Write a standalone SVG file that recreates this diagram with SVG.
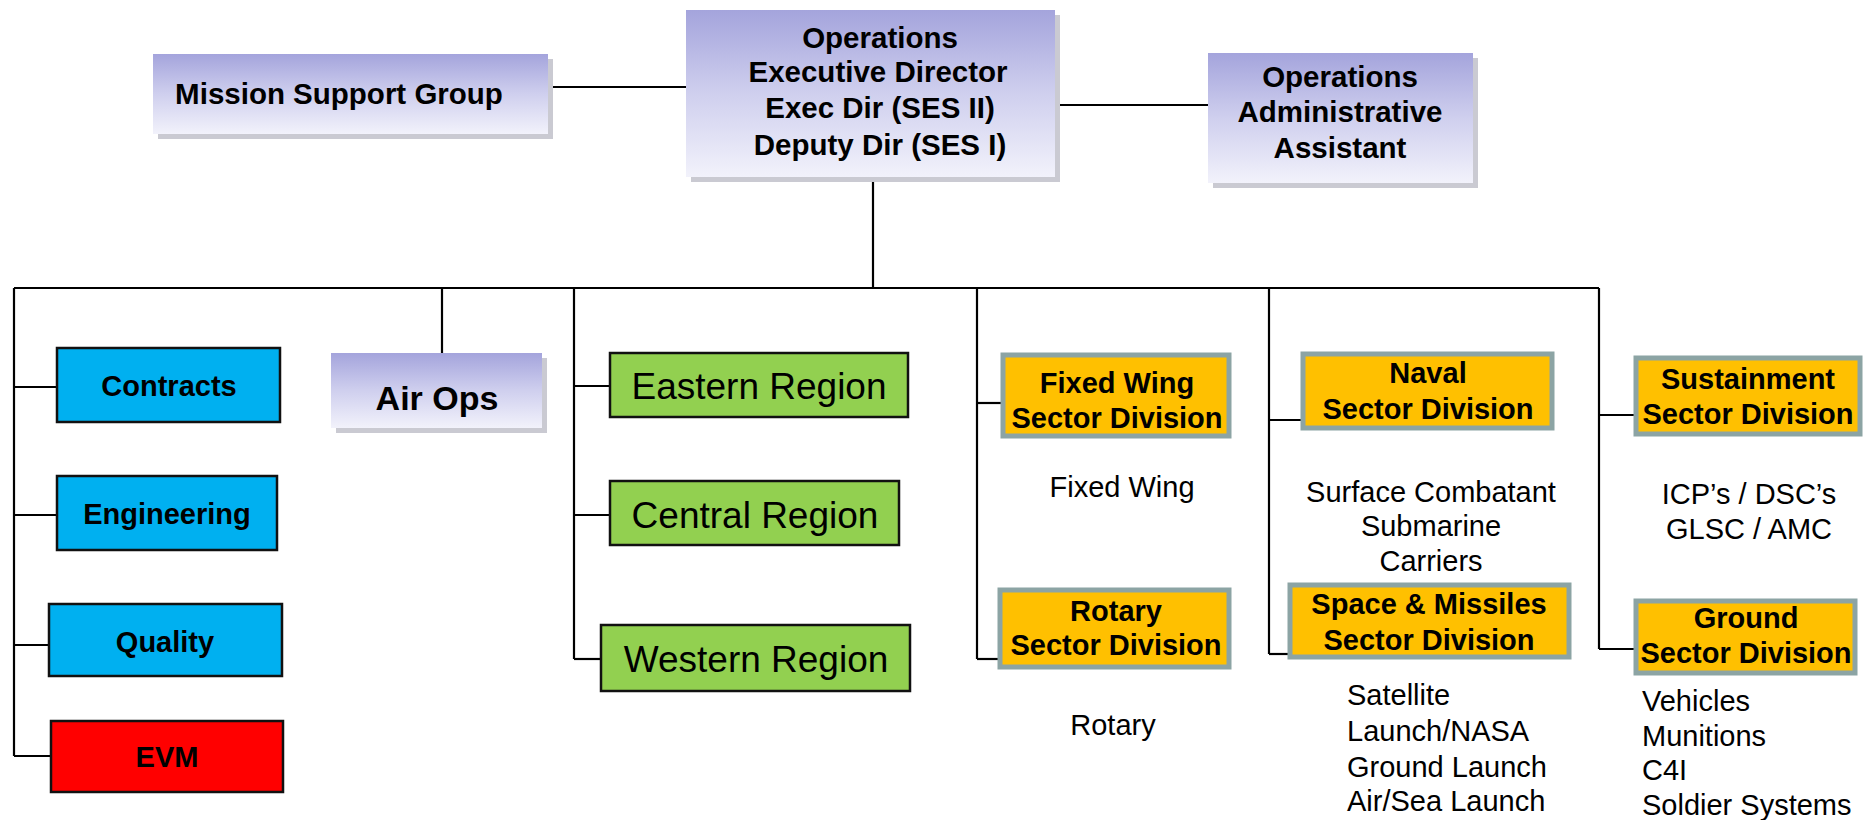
<svg xmlns="http://www.w3.org/2000/svg" width="1875" height="820" viewBox="0 0 1875 820">
<defs>
<linearGradient id="pg" x1="0" y1="0" x2="0" y2="1">
<stop offset="0" stop-color="#a4a4dc"/>
<stop offset="0.5" stop-color="#cfcfee"/>
<stop offset="1" stop-color="#f2f2fb"/>
</linearGradient>
<style>
.conn line, .conn polyline { stroke:#000; stroke-width:2.2; fill:none; }
.pbox { fill:url(#pg); }
.shadow { fill:#cacad2; }
.blue { fill:#00b0f0; stroke:#111; stroke-width:2.5; }
.red { fill:#ff0000; stroke:#111; stroke-width:2.5; }
.green { fill:#92d050; stroke:#111; stroke-width:2.5; }
.orange { fill:#ffc000; stroke:#8ca4a4; stroke-width:5; }
text { font-family:"Liberation Sans", Arial, sans-serif; fill:#000; text-anchor:middle; }
.b28 { font-weight:bold; font-size:29.5px; }
.b27 { font-weight:bold; font-size:29px; }
.b34 { font-weight:bold; font-size:34px; }
.r36 { font-size:37px; }
.r27 { font-size:29px; }
.left { text-anchor:start; }
</style>
</defs>
<rect width="1875" height="820" fill="#fff"/>

<g class="conn">
<line x1="548" y1="87" x2="686" y2="87"/>
<line x1="1055" y1="105" x2="1208" y2="105"/>
<line x1="873" y1="177" x2="873" y2="288"/>
<line x1="14" y1="288" x2="1599" y2="288"/>
<line x1="14" y1="288" x2="14" y2="756"/>
<line x1="14" y1="387" x2="57" y2="387"/>
<line x1="14" y1="515" x2="57" y2="515"/>
<line x1="14" y1="645" x2="49" y2="645"/>
<line x1="14" y1="756" x2="51" y2="756"/>
<line x1="442" y1="288" x2="442" y2="353"/>
<line x1="574" y1="288" x2="574" y2="659"/>
<line x1="574" y1="386" x2="610" y2="386"/>
<line x1="574" y1="515" x2="610" y2="515"/>
<line x1="574" y1="659" x2="601" y2="659"/>
<line x1="977" y1="288" x2="977" y2="659"/>
<line x1="977" y1="403" x2="1003" y2="403"/>
<line x1="977" y1="659" x2="1000" y2="659"/>
<line x1="1269" y1="288" x2="1269" y2="654"/>
<line x1="1269" y1="420" x2="1303" y2="420"/>
<line x1="1269" y1="654" x2="1290" y2="654"/>
<line x1="1599" y1="288" x2="1599" y2="649"/>
<line x1="1599" y1="415" x2="1636" y2="415"/>
<line x1="1599" y1="649" x2="1636" y2="649"/>
</g>

<g id="mission-support">
<rect class="shadow" x="158" y="59" width="395" height="80"/>
<rect class="pbox" x="153" y="54" width="395" height="80"/>
<text class="b28" x="339" y="104">Mission Support Group</text>
</g>

<g id="exec-director">
<rect class="shadow" x="691" y="15" width="369" height="167"/>
<rect class="pbox" x="686" y="10" width="369" height="167"/>
<text class="b28" x="880" y="48">Operations</text>
<text class="b28" x="878" y="82">Executive Director</text>
<text class="b28" x="880" y="118">Exec Dir (SES II)</text>
<text class="b28" x="880" y="155">Deputy Dir (SES I)</text>
</g>

<g id="admin-assistant">
<rect class="shadow" x="1213" y="58" width="265" height="130"/>
<rect class="pbox" x="1208" y="53" width="265" height="130"/>
<text class="b28" x="1340" y="87">Operations</text>
<text class="b28" x="1340" y="122">Administrative</text>
<text class="b28" x="1340" y="158">Assistant</text>
</g>

<g id="contracts">
<rect class="blue" x="57" y="348" width="223" height="74"/>
<text class="b27" x="169" y="396">Contracts</text>
</g>
<g id="engineering">
<rect class="blue" x="57" y="476" width="220" height="74"/>
<text class="b27" x="167" y="524">Engineering</text>
</g>
<g id="quality">
<rect class="blue" x="49" y="604" width="233" height="72"/>
<text class="b27" x="165" y="652">Quality</text>
</g>
<g id="evm">
<rect class="red" x="51" y="721" width="232" height="71"/>
<text class="b27" x="167" y="767">EVM</text>
</g>

<g id="air-ops">
<rect class="shadow" x="336" y="358" width="211" height="75"/>
<rect class="pbox" x="331" y="353" width="211" height="75"/>
<text class="b34" x="437" y="410">Air Ops</text>
</g>

<g id="eastern">
<rect class="green" x="610" y="353" width="298" height="64"/>
<text class="r36" x="759" y="399">Eastern Region</text>
</g>
<g id="central">
<rect class="green" x="610" y="481" width="289" height="64"/>
<text class="r36" x="755" y="528">Central Region</text>
</g>
<g id="western">
<rect class="green" x="601" y="625" width="309" height="66"/>
<text class="r36" x="756" y="672">Western Region</text>
</g>

<g id="fixed-wing">
<rect class="orange" x="1003" y="355" width="226" height="81"/>
<text class="b27" x="1117" y="393">Fixed Wing</text>
<text class="b27" x="1117" y="428">Sector Division</text>
</g>
<g id="rotary">
<rect class="orange" x="1000" y="590" width="229" height="77"/>
<text class="b27" x="1116" y="621">Rotary</text>
<text class="b27" x="1116" y="655">Sector Division</text>
</g>
<g id="naval">
<rect class="orange" x="1303" y="354" width="249" height="74"/>
<text class="b27" x="1428" y="383">Naval</text>
<text class="b27" x="1428" y="419">Sector Division</text>
</g>
<g id="space">
<rect class="orange" x="1290" y="585" width="279" height="72"/>
<text class="b27" x="1429" y="614">Space &amp; Missiles</text>
<text class="b27" x="1429" y="650">Sector Division</text>
</g>
<g id="sustainment">
<rect class="orange" x="1636" y="358" width="224" height="76"/>
<text class="b27" x="1748" y="389">Sustainment</text>
<text class="b27" x="1748" y="424">Sector Division</text>
</g>
<g id="ground">
<rect class="orange" x="1636" y="601" width="219" height="72"/>
<text class="b27" x="1746" y="628">Ground</text>
<text class="b27" x="1746" y="663">Sector Division</text>
</g>

<g id="labels">
<text class="r27" x="1122" y="497">Fixed Wing</text>
<text class="r27" x="1113" y="735">Rotary</text>
<text class="r27" x="1431" y="502">Surface Combatant</text>
<text class="r27" x="1431" y="536">Submarine</text>
<text class="r27" x="1431" y="571">Carriers</text>
<text class="r27 left" x="1347" y="705">Satellite</text>
<text class="r27 left" x="1347" y="741">Launch/NASA</text>
<text class="r27 left" x="1347" y="777">Ground Launch</text>
<text class="r27 left" x="1347" y="811">Air/Sea Launch</text>
<text class="r27" x="1749" y="504">ICP’s / DSC’s</text>
<text class="r27" x="1749" y="539">GLSC / AMC</text>
<text class="r27 left" x="1642" y="711">Vehicles</text>
<text class="r27 left" x="1642" y="746">Munitions</text>
<text class="r27 left" x="1642" y="780">C4I</text>
<text class="r27 left" x="1642" y="815">Soldier Systems</text>
</g>
</svg>
